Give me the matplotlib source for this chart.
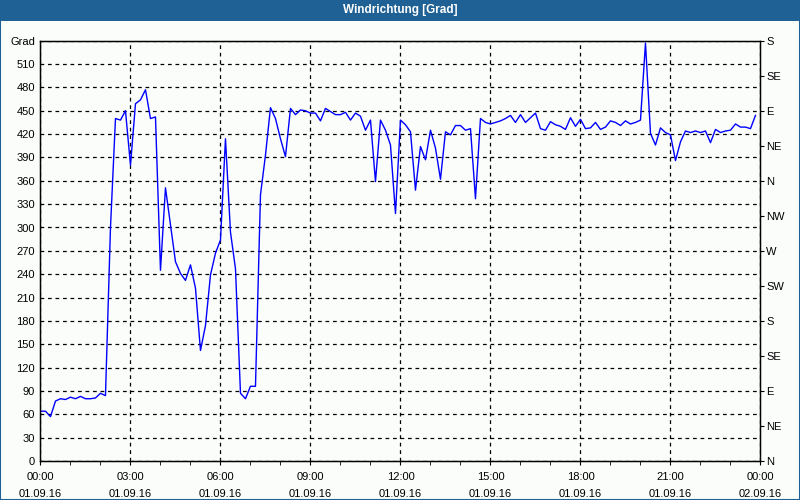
import numpy as np
import matplotlib
matplotlib.use('Agg')
from matplotlib import pyplot as plt
from matplotlib.patches import Rectangle

# wind direction in degrees, 10-minute values from 00:00 to 23:50
richtung = [
    64, 64, 57, 77, 80, 79, 82, 80, 83, 80, 80, 81, 87, 84, 300, 440, 438, 450, 380, 459, 464, 477, 440, 442,
    245, 351, 303, 256, 241, 232, 252, 222, 142, 174, 239, 267, 284, 414, 294, 247, 87, 80, 96, 96, 342, 393, 454, 440,
    414, 391, 453, 445, 451, 450, 447, 447, 437, 453, 449, 445, 445, 448, 438, 447, 443, 425, 438, 359, 438, 425, 406, 318,
    438, 432, 423, 348, 404, 387, 425, 402, 362, 423, 419, 431, 431, 425, 427, 337, 440, 435, 433, 435, 437, 440, 444, 435,
    445, 435, 441, 447, 427, 425, 436, 432, 430, 426, 441, 430, 439, 427, 428, 435, 426, 429, 437, 435, 431, 437, 433, 435,
    438, 537, 421, 406, 428, 422, 419, 386, 410, 424, 422, 424, 422, 424, 409, 426, 422, 424, 425, 433, 429, 429, 427, 444,
]
stunden = np.arange(len(richtung)) / 6.0

x_ticks = [0, 3, 6, 9, 12, 15, 18, 21, 24]
x_labels = ['00:00\n01.09.16', '03:00\n01.09.16', '06:00\n01.09.16', '09:00\n01.09.16',
            '12:00\n01.09.16', '15:00\n01.09.16', '18:00\n01.09.16', '21:00\n01.09.16',
            '00:00\n02.09.16']
y_ticks = list(range(0, 541, 30))
y_labels = [str(v) for v in y_ticks[:-1]] + ['Grad']
himmel_ticks = list(range(0, 541, 45))
himmel_labels = ['N', 'NE', 'E', 'SE', 'S', 'SW', 'W', 'NW', 'N', 'NE', 'E', 'SE', 'S']

blau = '#1f6194'
hinter = '#fbfdfb'

plt.rcParams['font.family'] = ['Liberation Sans', 'DejaVu Sans']
plt.rcParams['font.size'] = 8

fig = plt.figure(figsize=(8, 5), dpi=100, facecolor=hinter)
ax = fig.add_axes([0.0506, 0.078, 0.9, 0.8406])
ax.set_facecolor(hinter)

ax.plot(stunden, richtung, color='#0000ff', lw=1)

ax.set_xlim(0, 24)
ax.set_ylim(0, 540)
ax.set_xticks(x_ticks)
ax.set_xticklabels(x_labels, linespacing=1.9)
ax.set_xticks(range(0, 25), minor=True)
ax.set_yticks(y_ticks)
ax.set_yticklabels(y_labels)
ax.tick_params(axis='y', length=0, pad=4)
ax.tick_params(axis='x', which='both', length=3, direction='out', pad=5)
ax.grid(True, color='black', linestyle=(0, (3, 3)), lw=0.9)
for s in ax.spines.values():
    s.set_color('black')
    s.set_linewidth(1)

ax2 = ax.twinx()
ax2.set_ylim(0, 540)
ax2.set_yticks(himmel_ticks)
ax2.set_yticklabels(himmel_labels)
ax2.tick_params(axis='y', length=3, pad=1)

# title bar and frame
fig.patches.append(Rectangle((0, 0.958), 1, 0.042, transform=fig.transFigure,
                             facecolor=blau, edgecolor='none'))
fig.patches.append(Rectangle((0.0006, 0.001), 0.9988, 0.998, transform=fig.transFigure,
                             facecolor='none', edgecolor=blau, lw=1.5))
fig.text(0.5, 0.979, 'Windrichtung [Grad]', color='white', fontsize=8.5,
         fontweight='bold', ha='center', va='center')

fig.savefig('out.png', dpi=100, facecolor=hinter)
